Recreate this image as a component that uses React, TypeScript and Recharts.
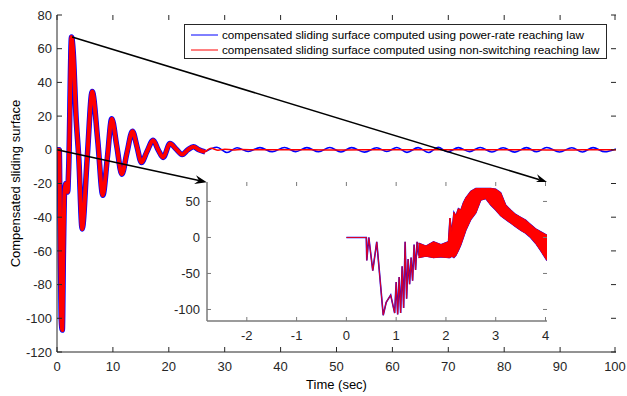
import {
    LineChart,
    ComposedChart,
    Line,
    Area,
    XAxis,
    YAxis,
    CartesianGrid,
    Legend,
    ReferenceLine,
} from 'recharts';

const FONT = '"Liberation Sans", Arial, Helvetica, sans-serif';
const INK = '#262626';
const FRAME = '#7a7a7a';
const BLUE = '#0000ff';
const RED = '#ff0000';

const seriesNames = [
    'compensated sliding surface computed using power-rate reaching law',
    'compensated sliding surface computed using non-switching reaching law',
];

// main axes
const timeTicks = [0, 10, 20, 30, 40, 50, 60, 70, 80, 90, 100];
const surfaceTicks = [-120, -100, -80, -60, -40, -20, 0, 20, 40, 60, 80];

// first 26 s: both reaching laws lie on top of each other
const transientTime = [
    0, 0.4, 0.55, 0.75, 0.95, 1.15, 1.35, 1.6, 1.9, 2.1, 2.6, 2.9, 3.4, 3.9, 4.5, 5.4, 6.3, 7.3,
    8.2, 9.0, 9.8, 10.7, 11.6, 12.5, 13.5, 14.3, 15.1, 16.1, 17.2, 18.1, 19.0, 20.2, 21.3, 22.4,
    23.4, 24.4, 25.4, 26.5,
];
const transientValue = [
    0, 0, -45, -100, -107, -60, -25, -20, -25, -10, 67, 58, 20, -5, -47, -5, 34.6, 5, -27, -5,
    18.5, 2, -14.5, -2, 11, 2, -7.5, -1, 5.7, 0, -4.5, 3.7, 0.5, -2.8, 0, 1.8, 0, -1.2,
];

// after that the power-rate law keeps a small ripple
const powerRateTime = [
    26.5, 28.6, 30.4, 32.2, 34.2, 36.3, 38.5, 40.7, 42.7, 44.7, 46.8, 48.8, 50.8, 52.7, 55, 57.2,
    59, 60.8, 62.6, 64.6, 66.5, 68.2, 69.9, 71.8, 73.8, 75.7, 77.8, 79.8, 81.9, 84, 85.8, 87.6,
    89.9, 92.1, 94, 95.9, 98, 100,
];
const powerRateValue = [
    -1.2, 1.5, -1.6, 1.2, -1.0, 1.3, -1.2, 1.4, -1.1, 1.3, -1.2, 1.4, -1.3, 1.3, -1.4, 1.2, -1.0,
    1.4, -1.5, 1.3, -1.6, 1.5, -1.2, 1.3, -1.1, 1.4, -1.3, 1.2, -1.4, 1.3, -1.2, 1.4, -1.3, 1.2,
    -1.3, 1.3, -1.2, 0.5,
];

// ...while the non-switching law settles at zero
const nonSwitchingTime = [
    26.5, 27.6, 28.8, 30, 31.5, 33, 36, 40, 45, 50, 55, 60, 65, 70, 75, 80, 85, 90, 95, 100,
];
const nonSwitchingValue = [
    -1.2, 0.9, -0.2, 0.4, -0.1, 0.2, 0, 0.1, 0, -0.1, 0, 0.1, 0, 0, 0.1, 0, 0, -0.1, 0, 0,
];

// inset: zoom on the first 4 seconds
const zoomTimeTicks = [-2, -1, 0, 1, 2, 3, 4];
const zoomSurfaceTicks = [-100, -50, 0, 50];

const zoomStartTime = [
    0, 0.4, 0.41, 0.45, 0.53, 0.61, 0.74, 0.8, 0.89, 0.97, 1.0, 1.03, 1.06, 1.09, 1.12, 1.15,
    1.18, 1.21, 1.24, 1.27, 1.3, 1.33, 1.36, 1.39, 1.42, 1.45,
];
const zoomStartValue = [
    0, 0, -32, 0, -46, -6, -108, -90, -80, -105, -62, -107, -55, -105, -40, -98, -6, -85, -30,
    -65, -28, -60, -10, -45, -6, -25,
];

// chattering band (low / high envelope)
const zoomBandTime = [
    1.45, 1.6, 1.75, 1.9, 2.05, 2.08, 2.12, 2.16, 2.2, 2.25, 2.3, 2.35, 2.4, 2.5, 2.6, 2.7, 2.8,
    2.9, 3.0, 3.1, 3.2, 3.3, 3.4, 3.5, 3.6, 3.7, 3.8, 3.9, 4.03,
];
const zoomBandLow = [
    -28, -26, -28, -27, -28, -28, -26, -28, -25, -18, -10, 0, 10, 25, 34, 52, 54, 45, 38, 30, 25,
    20, 15, 10, 6, 0, -8, -18, -32,
];
const zoomBandHigh = [
    -8, -12, -6, -10, -6, 27, 8, 35, 30, 40, 38, 48, 55, 64, 68, 68, 68, 68, 67, 62, 45, 38, 32,
    28, 24, 18, 12, 8, 3,
];

// zoom arrows: from the main curve to the inset's upper corners (main-axis units)
const zoomArrows = [
    { from: { x: 0, y: 0 }, to: { x: 26.8, y: -19.2 } },
    { from: { x: 2.7, y: 67 }, to: { x: 87.7, y: -19.2 } },
];

const toPoints = (ts: number[], vs: number[]) => ts.map((t, i) => ({ t, v: vs[i] }));

const transientData = toPoints(transientTime, transientValue);
const powerRateData = toPoints(powerRateTime, powerRateValue);
const nonSwitchingData = toPoints(nonSwitchingTime, nonSwitchingValue);
const zoomStartData = toPoints(zoomStartTime, zoomStartValue);
const zoomBandData = zoomBandTime.map((t, i) => ({ t, range: [zoomBandLow[i], zoomBandHigh[i]] }));

// plot boxes in svg coordinates (MATLAB draws ticks inward on all four sides)
const mainBox = { left: 57, right: 616, top: 15, bottom: 352 };
const zoomBox = { left: 47, right: 387, top: 7, bottom: 146 };

const labelText = { fill: INK, fontSize: 13, fontFamily: FONT };

function makeXTick(box: typeof mainBox, len: number, color: string) {
    return (props: any) => {
        const { x, payload } = props;
        return (
            <g>
                <line x1={x} x2={x} y1={box.bottom} y2={box.bottom - len} stroke={color} />
                <line x1={x} x2={x} y1={box.top} y2={box.top + len} stroke={color} />
                <text x={x} y={box.bottom + 18.5} textAnchor="middle" {...labelText}>
                    {payload.value}
                </text>
            </g>
        );
    };
}

function makeYTick(box: typeof mainBox, len: number, color: string, gap: number) {
    return (props: any) => {
        const { y, payload } = props;
        return (
            <g>
                <line x1={box.left} x2={box.left + len} y1={y} y2={y} stroke={color} />
                <line x1={box.right} x2={box.right - len} y1={y} y2={y} stroke={color} />
                <text x={box.left - gap} y={y + 4.6} textAnchor="end" {...labelText}>
                    {payload.value}
                </text>
            </g>
        );
    };
}

function Arrow(props: any) {
    const { x1, y1, x2, y2 } = props;
    const a = Math.atan2(y2 - y1, x2 - x1);
    const c = Math.cos(a);
    const s = Math.sin(a);
    const len = 12;
    const half = 4.5;
    const notch = 8;
    const bx = x2 - len * c;
    const by = y2 - len * s;
    const pts = [
        [x2, y2],
        [bx - half * s, by + half * c],
        [x2 - notch * c, y2 - notch * s],
        [bx + half * s, by - half * c],
    ];
    return (
        <g>
            <line x1={x1} y1={y1} x2={x2 - notch * c} y2={y2 - notch * s} stroke="#000" strokeWidth={1.6} />
            <polygon points={pts.map((p) => p.join(',')).join(' ')} fill="#000" />
        </g>
    );
}

function LegendBox({ payload }: any) {
    const items = (payload || [])
        .filter((p: any) => seriesNames.includes(p.value))
        .sort((a: any, b: any) => seriesNames.indexOf(a.value) - seriesNames.indexOf(b.value));
    return (
        <div
            style={{
                boxSizing: 'border-box',
                width: 423,
                height: 35,
                border: `1px solid ${INK}`,
                background: '#fff',
                padding: '2px 0 0 6px',
                fontFamily: FONT,
                fontSize: 11.7,
                color: '#000',
            }}
        >
            {items.map((p: any) => (
                <div key={p.value} style={{ display: 'flex', alignItems: 'center', height: 15, whiteSpace: 'nowrap' }}>
                    <svg width={31} height={4} style={{ flex: 'none' }}>
                        <line x1={0} y1={2} x2={27} y2={2} stroke={p.color} strokeWidth={1} />
                    </svg>
                    <span>{p.value}</span>
                </div>
            ))}
        </div>
    );
}

export default function App() {
    return (
        <div style={{ position: 'absolute', left: 0, top: 0, width: 627, height: 396, background: '#fff', fontFamily: FONT }}>
            <LineChart width={627} height={396} margin={{ top: 15, right: 11, bottom: 0, left: 0 }}>
                <XAxis
                    dataKey="t"
                    type="number"
                    domain={[0, 100]}
                    ticks={timeTicks}
                    height={44}
                    tick={makeXTick(mainBox, 5, INK)}
                    tickLine={false}
                    axisLine={{ stroke: INK }}
                    allowDataOverflow
                    label={{ value: 'Time (sec)', position: 'insideBottom', offset: 7, fill: '#000', fontSize: 13, fontFamily: FONT }}
                />
                <XAxis xAxisId="top" orientation="top" type="number" domain={[0, 100]} height={0} tick={false} tickLine={false} axisLine={{ stroke: INK }} />
                <YAxis
                    type="number"
                    domain={[-120, 80]}
                    ticks={surfaceTicks}
                    width={57}
                    tick={makeYTick(mainBox, 5, INK, 5)}
                    tickLine={false}
                    axisLine={{ stroke: INK }}
                    allowDataOverflow
                    label={{
                        value: 'Compensated sliding surface',
                        angle: -90,
                        position: 'insideLeft',
                        offset: 15,
                        fill: '#000',
                        fontSize: 13,
                        fontFamily: FONT,
                        style: { textAnchor: 'middle' },
                    }}
                />
                <YAxis yAxisId="right" orientation="right" type="number" domain={[-120, 80]} width={0} tick={false} tickLine={false} axisLine={{ stroke: INK }} />
                <Line data={transientData} dataKey="v" name={seriesNames[0]} type="monotone" stroke={BLUE} strokeWidth={5.5} dot={false} isAnimationActive={false} />
                <Line data={powerRateData} dataKey="v" legendType="none" type="monotone" stroke={BLUE} strokeWidth={1.6} dot={false} isAnimationActive={false} />
                <Line data={transientData} dataKey="v" name={seriesNames[1]} type="monotone" stroke={RED} strokeWidth={4} dot={false} isAnimationActive={false} />
                <Line data={nonSwitchingData} dataKey="v" legendType="none" type="monotone" stroke={RED} strokeWidth={1.5} dot={false} isAnimationActive={false} />
                {zoomArrows.map((a, i) => (
                    <ReferenceLine key={i} segment={[a.from, a.to]} ifOverflow="visible" shape={Arrow} />
                ))}
                <Legend
                    layout="vertical"
                    align="center"
                    verticalAlign="middle"
                    content={LegendBox}
                    wrapperStyle={{ left: 184, top: 24, width: 423, height: 35 }}
                />
            </LineChart>

            <div style={{ position: 'absolute', left: 160, top: 175 }}>
                <ComposedChart width={400} height={175} margin={{ top: 7, right: 13, bottom: 0, left: 0 }}>
                    <CartesianGrid horizontal={false} vertical={false} fill="#fff" />
                    <XAxis
                        dataKey="t"
                        type="number"
                        domain={[-2.8, 4.03]}
                        ticks={zoomTimeTicks}
                        height={29}
                        tick={makeXTick(zoomBox, 4, FRAME)}
                        tickLine={false}
                        axisLine={{ stroke: FRAME, strokeWidth: 1.5 }}
                        allowDataOverflow
                    />
                    <XAxis xAxisId="top" orientation="top" type="number" domain={[-2.8, 4.03]} height={0} tick={false} tickLine={false} axisLine={{ stroke: FRAME, strokeWidth: 1.5 }} />
                    <YAxis
                        type="number"
                        domain={[-116, 77]}
                        ticks={zoomSurfaceTicks}
                        width={47}
                        tick={makeYTick(zoomBox, 4, FRAME, 7)}
                        tickLine={false}
                        axisLine={{ stroke: FRAME, strokeWidth: 1.5 }}
                        allowDataOverflow
                    />
                    <YAxis yAxisId="right" orientation="right" type="number" domain={[-116, 77]} width={0} tick={false} tickLine={false} axisLine={{ stroke: FRAME, strokeWidth: 1.5 }} />
                    <Area data={zoomBandData} dataKey="range" type="linear" stroke={BLUE} strokeWidth={1.4} fill={BLUE} fillOpacity={1} isAnimationActive={false} />
                    <Line data={zoomStartData} dataKey="v" type="linear" stroke={BLUE} strokeWidth={1.6} dot={false} isAnimationActive={false} />
                    <Area data={zoomBandData} dataKey="range" type="linear" stroke={RED} strokeWidth={1} fill={RED} fillOpacity={1} isAnimationActive={false} />
                    <Line data={zoomStartData} dataKey="v" type="linear" stroke={RED} strokeWidth={1.1} strokeOpacity={0.85} dot={false} isAnimationActive={false} />
                </ComposedChart>
            </div>
        </div>
    );
}
